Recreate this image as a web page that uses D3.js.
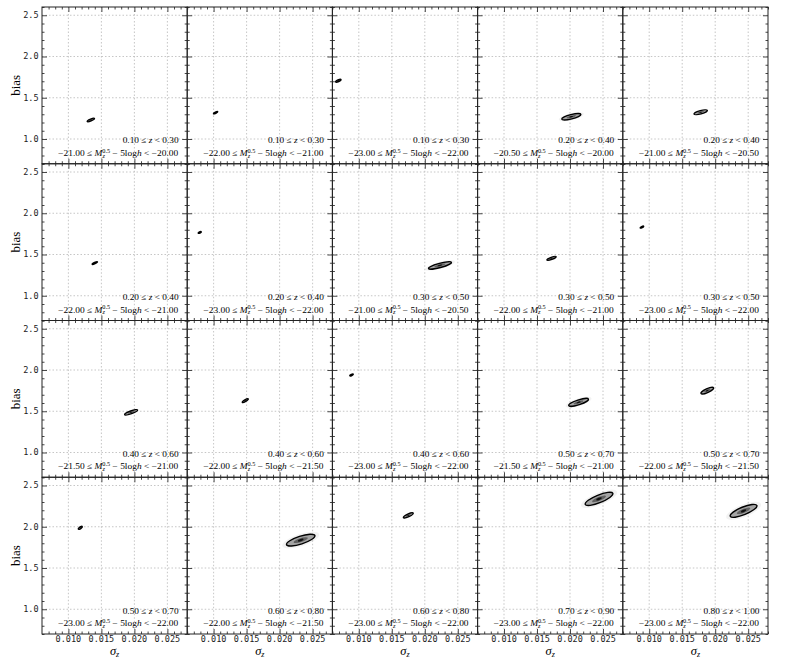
<!DOCTYPE html>
<html><head><meta charset="utf-8">
<script src="https://cdn.jsdelivr.net/npm/d3@7"></script>
<style>
body{margin:0;background:#fff;}
svg{display:block;}
</style></head>
<body><svg id="c" width="789" height="664"></svg>
<script>
// ---- data ----
const zLo = [0.10,0.10,0.10,0.20,0.20, 0.20,0.20,0.30,0.30,0.30, 0.40,0.40,0.40,0.50,0.50, 0.50,0.60,0.60,0.70,0.80];
const zHi = [0.30,0.30,0.30,0.40,0.40, 0.40,0.40,0.50,0.50,0.50, 0.60,0.60,0.60,0.70,0.70, 0.70,0.80,0.80,0.90,1.00];
const mLo = [-21.00,-22.00,-23.00,-20.50,-21.00, -22.00,-23.00,-21.00,-22.00,-23.00, -21.50,-22.00,-23.00,-21.50,-22.00, -23.00,-22.00,-23.00,-23.00,-23.00];
const mHi = [-20.00,-21.00,-22.00,-20.00,-20.50, -21.00,-22.00,-20.50,-21.00,-22.00, -21.00,-21.50,-22.00,-21.00,-21.50, -22.00,-21.50,-22.00,-22.00,-22.00];
// contour centre
const sigmaCenter = [0.0134,0.0103,0.0069,0.0202,0.0178, 0.0140,0.0079,0.0223,0.0172,0.0089, 0.0195,0.0148,0.0089,0.0213,0.0188, 0.0118,0.0232,0.0175,0.0244,0.0243];
const biasCenter  = [1.230,1.319,1.707,1.270,1.324, 1.396,1.768,1.368,1.453,1.832, 1.487,1.629,1.940,1.608,1.750, 1.987,1.838,2.137,2.338,2.193];
// half major axis of the contour, expressed in data units
const sigmaHalf = [0.00055,0.00033,0.00040,0.00145,0.00101, 0.00040,0.00023,0.00174,0.00070,0.00026, 0.00098,0.00045,0.00026,0.00150,0.00095, 0.00030,0.00215,0.00074,0.00209,0.00202];
const biasHalf  = [0.0177,0.0123,0.0149,0.0290,0.0217, 0.0149,0.0085,0.0373,0.0203,0.0097, 0.0286,0.0206,0.0097,0.0390,0.0354, 0.0167,0.0558,0.0277,0.0676,0.0654];
// minor / major axis ratio
const axisRatio = [0.23,0.27,0.31,0.22,0.24, 0.22,0.40,0.18,0.23,0.34, 0.20,0.26,0.34,0.23,0.28, 0.37,0.26,0.26,0.26,0.27];

const xTicks = [0.010,0.015,0.020,0.025];
const yTicks = [1.0,1.5,2.0,2.5];
const xDomain = [0.006,0.028];
const yDomain = [0.7,2.6];

// ---- layout ----
const nCols = 5, nRows = 4;
const L = 42, R = 768, T = 7, B = 634;
const pw = (R-L)/nCols, ph = (B-T)/nRows;

const svg = d3.select("#c");
const x = d3.scaleLinear().domain(xDomain).range([0,pw]);
const y = d3.scaleLinear().domain(yDomain).range([ph,0]);
const xMinor = d3.range(7,29).map(v=>v/1000).filter(v=>xTicks.every(t=>Math.abs(t-v)>1e-9));
const yMinor = d3.range(7,27).map(v=>v/10).filter(v=>yTicks.every(t=>Math.abs(t-v)>1e-9));

const serif = "'Liberation Serif','Times New Roman',serif";
const mono = "'DejaVu Sans Mono',monospace";
const fmt3 = d3.format(".3f"), fmt1 = d3.format(".1f"), fmt2 = d3.format(".2f");
const minus = s => s.replace("-","\u2212");

for (let i=0;i<nRows*nCols;i++){
  const r = Math.floor(i/nCols), c = i%nCols;
  const g = svg.append("g").attr("transform",`translate(${L+c*pw},${T+r*ph})`);

  // grid
  const grid = g.append("g").attr("stroke","#b8b8b8").attr("stroke-width",0.8).attr("stroke-dasharray","1.5,2");
  grid.selectAll(".gx").data(xTicks).join("line")
    .attr("x1",d=>x(d)).attr("x2",d=>x(d)).attr("y1",0).attr("y2",ph);
  grid.selectAll(".gy").data(yTicks).join("line")
    .attr("y1",d=>y(d)).attr("y2",d=>y(d)).attr("x1",0).attr("x2",pw);

  // contour ellipse
  const cx = x(sigmaCenter[i]), cy = y(biasCenter[i]);
  const ex = x(sigmaCenter[i]+sigmaHalf[i]), ey = y(biasCenter[i]+biasHalf[i]);
  const a = Math.hypot(ex-cx, ey-cy), ang = Math.atan2(ey-cy, ex-cx)*180/Math.PI;
  const b = a*axisRatio[i];
  const eg = g.append("g").attr("transform",`translate(${cx},${cy}) rotate(${ang})`);
  if (a>8){
    eg.append("ellipse").attr("rx",a*1.3).attr("ry",b*1.6).attr("fill","#000").attr("opacity",0.05);
  }
  eg.append("ellipse").attr("rx",a).attr("ry",b).attr("fill","#a4a4a4");
  eg.append("ellipse").attr("rx",a*0.5).attr("ry",b*0.5).attr("fill","#606060");
  eg.append("ellipse").attr("rx",a*0.2).attr("ry",b*0.3).attr("fill","#111");
  eg.append("ellipse").attr("rx",a).attr("ry",b).attr("fill","none").attr("stroke","#000").attr("stroke-width",1.4);

  // axes with inward ticks on all sides
  const mk = (axis, tr, vals, size) => {
    const ax = g.append("g").attr("transform",tr)
      .call(axis.tickValues(vals).tickSize(size).tickFormat(""));
    ax.select(".domain").remove();
    ax.selectAll("line").attr("stroke","#333").attr("stroke-width",0.9);
  };
  mk(d3.axisBottom(x), `translate(0,${ph})`, xTicks, -5);
  mk(d3.axisBottom(x), `translate(0,${ph})`, xMinor, -2.5);
  mk(d3.axisTop(x), `translate(0,0)`, xTicks, -5);
  mk(d3.axisTop(x), `translate(0,0)`, xMinor, -2.5);
  mk(d3.axisLeft(y), `translate(0,0)`, yTicks, -5);
  mk(d3.axisLeft(y), `translate(0,0)`, yMinor, -2.5);
  mk(d3.axisRight(y), `translate(${pw},0)`, yTicks, -5);
  mk(d3.axisRight(y), `translate(${pw},0)`, yMinor, -2.5);

  g.append("rect").attr("width",pw).attr("height",ph).attr("fill","none").attr("stroke","#222").attr("stroke-width",1);

  // tick labels
  if (c===0){
    g.selectAll(".yl").data(yTicks).join("text")
      .attr("x",-3.5).attr("y",d=>y(d)).attr("dy","0.34em").attr("text-anchor","end")
      .attr("font-family",mono).attr("font-size",8.5).attr("fill","#222").text(d=>fmt1(d));
    g.append("text").attr("transform",`translate(-22,${ph/2}) rotate(-90)`)
      .attr("text-anchor","middle").attr("font-family",serif).attr("font-size",13).text("bias");
  }
  if (r===nRows-1){
    g.selectAll(".xl").data(xTicks).join("text")
      .attr("x",d=>x(d)).attr("y",ph+8).attr("text-anchor","middle")
      .attr("font-family",mono).attr("font-size",8.5).attr("fill","#222").text(d=>fmt3(d));
    const t = g.append("text").attr("x",pw/2).attr("y",ph+20.5).attr("text-anchor","middle")
      .attr("font-family",serif).attr("font-size",12.5);
    t.append("tspan").attr("font-style","italic").text("\u03c3");
    t.append("tspan").attr("font-style","italic").attr("font-size",8).attr("dy",2.5).text("z");
  }

  // annotations
  const t1 = g.append("text").attr("x",pw-8.5).attr("y",ph-20.5).attr("text-anchor","end")
    .attr("font-family",serif).attr("font-size",8.3).attr("textLength",56).attr("lengthAdjust","spacingAndGlyphs");
  t1.append("tspan").text(`${fmt2(zLo[i])} \u2264 `);
  t1.append("tspan").attr("font-style","italic").text("z");
  t1.append("tspan").text(` < ${fmt2(zHi[i])}`);

  const t2 = g.append("text").attr("x",pw-9).attr("y",ph-8).attr("text-anchor","end")
    .attr("font-family",serif).attr("font-size",8.3).attr("textLength",120).attr("lengthAdjust","spacingAndGlyphs");
  t2.append("tspan").text(`${minus(fmt2(mLo[i]))} \u2264 `);
  t2.append("tspan").attr("font-style","italic").text("M");
  t2.append("tspan").attr("font-style","italic").attr("font-size",5.5).attr("dy",1.8).text("z");
  t2.append("tspan").attr("font-size",5.5).attr("dx",-2.3).attr("dy",-5).text("0.5");
  t2.append("tspan").attr("dy",3.2).text(" \u2212 5log");
  t2.append("tspan").attr("font-style","italic").text("h");
  t2.append("tspan").text(` < ${minus(fmt2(mHi[i]))}`);
}
</script></body></html>
